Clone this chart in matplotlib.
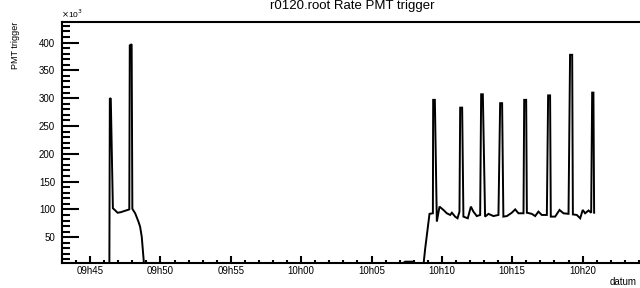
import numpy as np
import matplotlib
matplotlib.use("Agg")
import matplotlib.pyplot as plt
from matplotlib.ticker import MultipleLocator, FuncFormatter

plt.rcParams['font.family'] = ['Liberation Sans', 'DejaVu Sans']

# time in minutes after 09:00, rate in units of 10^3
t_left = [46.367, 46.40, 46.467, 46.617, 46.75, 46.95, 47.183, 47.417, 47.667,
          47.783, 47.817, 47.95, 48.0, 48.2, 48.433, 48.55, 48.667, 48.833]
r_left = [0, 300, 299, 102, 99, 94, 95, 97, 99,
          100, 395, 397, 101, 93, 78, 69, 51, 0]

t_gap = [67.03, 67.39, 67.89, 68.10, 68.69, 68.81, 69.12, 69.36]
r_gap = [0, 6, 6, 0, 0, 29, 92, 93]

t_right = [69.38, 69.50, 69.64, 69.83, 70.11, 70.35, 70.59, 70.71, 70.94, 71.11, 71.25,
           71.30, 71.44, 71.53, 71.84, 72.06, 72.24, 72.48, 72.72,
           72.79, 72.91, 73.07, 73.31, 73.66, 74.02,
           74.14, 74.28, 74.37, 74.62, 74.97, 75.21, 75.44, 75.80,
           75.85, 75.99, 76.04, 76.39, 76.63, 76.86, 77.10, 77.46,
           77.55, 77.69, 77.74, 78.05, 78.36, 78.64, 79.00,
           79.11, 79.26, 79.31, 79.59, 79.83, 80.01, 80.18, 80.42, 80.61,
           80.68, 80.77, 80.82]
r_right = [297, 297, 78, 105, 99, 93, 90, 94, 87, 84, 96,
           283, 283, 87, 84, 105, 96, 88, 90,
           307, 307, 87, 92, 88, 90,
           291, 291, 87, 88, 94, 100, 93, 93,
           297, 297, 94, 92, 88, 96, 90, 90,
           305, 305, 87, 87, 99, 93, 92,
           378, 378, 91, 90, 84, 99, 93, 98, 94,
           310, 310, 94]

t_all = np.array(t_left + t_gap + t_right)
r_all = np.array(r_left + r_gap + r_right)


def hhmm(m, pos=None):
    h = 9 + int(round(m)) // 60
    mm = int(round(m)) % 60
    return "%02dh%02d" % (h, mm)


W, H = 640, 288
fig = plt.figure(figsize=(W / 100, H / 100), dpi=100)
ax = fig.add_axes([62 / W, 1 - 263 / H, (645 - 62) / W, (263 - 22) / H])

ax.plot(t_all, r_all, color='black', lw=1.4, solid_joinstyle='miter')

ax.set_xlim(43.0, 43.0 + 583 / 14.07)
ax.set_ylim(3.6, 437)

ax.xaxis.set_major_locator(MultipleLocator(5))
ax.xaxis.set_minor_locator(MultipleLocator(1))
ax.xaxis.set_major_formatter(FuncFormatter(hhmm))
ax.yaxis.set_major_locator(MultipleLocator(50))
ax.yaxis.set_minor_locator(MultipleLocator(10))

for s in ['left', 'bottom', 'top']:
    ax.spines[s].set_linewidth(1.5)
ax.spines['right'].set_visible(False)

ax.tick_params(axis='x', which='major', direction='in', length=5, width=1.5,
               labelsize=7, pad=2)
ax.tick_params(axis='x', which='minor', direction='in', length=2.5, width=1.5)
ax.tick_params(axis='y', which='major', direction='in', length=12, width=1.5,
               labelsize=7, pad=5)
ax.tick_params(axis='y', which='minor', direction='in', length=6, width=1.5)

fig.text(352 / W, 0.999, "r0120.root Rate PMT trigger", ha='center',
         va='top', fontsize=9.5)
fig.text(61 / W, 1 - 20 / H, r"$\times$10$^{3}$", ha='left', va='bottom',
         fontsize=6)
fig.text(16 / W, 1 - 22 / H, "PMT trigger", rotation=90, ha='center',
         va='top', fontsize=6.5)
fig.text(637 / W, 1 - 282 / H, "datum", ha='right', va='center', fontsize=7)

fig.savefig("out.png", dpi=100)
